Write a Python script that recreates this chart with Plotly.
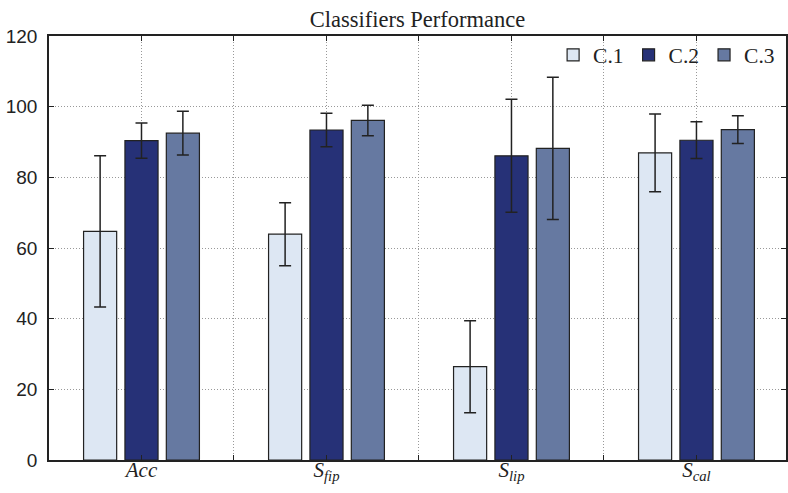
import plotly.graph_objects as go

categories = ["Acc", "S_fip", "S_lip", "S_cal"]
tick_labels = ["<i>Acc</i>", "<i>S</i><sub><i>fip</i></sub>",
               "<i>S</i><sub><i>lip</i></sub>", "<i>S</i><sub><i>cal</i></sub>"]
series_names = ["C.1", "C.2", "C.3"]
c1_values = [64.7, 63.9, 26.4, 86.9]
c1_errors = [21.4, 8.9, 13.0, 11.0]
c2_values = [90.4, 93.4, 86.1, 90.5]
c2_errors = [5.0, 4.75, 16.0, 5.2]
c3_values = [92.5, 96.1, 88.2, 93.5]
c3_errors = [6.2, 4.3, 20.1, 3.9]
colors = ["#dde7f3", "#263177", "#6679a1"]

x_pos = [i + 1 for i in range(len(categories))]

fig = go.Figure()
for name, vals, errs, col in zip(series_names,
                                 [c1_values, c2_values, c3_values],
                                 [c1_errors, c2_errors, c3_errors],
                                 colors):
    fig.add_trace(go.Bar(
        x=x_pos, y=vals, name=name,
        marker=dict(color=col, line=dict(color="#222222", width=1.2)),
        error_y=dict(type="data", array=errs, visible=True,
                     color="#222222", thickness=1.5, width=6),
    ))

grid_style = dict(gridcolor="#999999", griddash="1px,2px", gridwidth=1)

fig.update_layout(
    width=788, height=493,
    margin=dict(l=49, r=0, t=36, b=33),
    paper_bgcolor="white", plot_bgcolor="white",
    barmode="group", bargap=0.329, bargroupgap=0.2,
    title=dict(text="Classifiers Performance", x=0.5, xref="paper",
               xanchor="center", y=1, yref="paper", yanchor="bottom", pad=dict(b=9),
               font=dict(family="Liberation Serif", size=22.5, color="#222222")),
    legend=dict(orientation="h", x=0.992, xanchor="right", y=1.004, yanchor="top",
                bgcolor="rgba(255,255,255,0)", borderwidth=0,
                font=dict(family="Liberation Serif", size=21.5, color="#222222"),
                traceorder="normal"),
    showlegend=True,
)
fig.update_xaxes(
    range=[0.5, 4.484], tickmode="array", tickvals=x_pos, ticktext=tick_labels,
    ticks="inside", ticklen=5, tickcolor="#222222", tickwidth=1.2,
    showline=True, linecolor="#222222", linewidth=1.5, mirror="ticks",
    showgrid=True, zeroline=False, **grid_style,
    ticklabelstandoff=-10,
    minor=dict(tick0=0.5, dtick=0.5, ticks="inside", ticklen=5,
               tickcolor="#222222", tickwidth=1.2, showgrid=True,
               gridcolor="#999999", griddash="1px,2px", gridwidth=1),
    tickfont=dict(family="Liberation Serif", size=21, color="#222222"),
)
fig.update_yaxes(
    range=[0, 120], dtick=20, tick0=0,
    ticks="inside", ticklen=5, tickcolor="#222222", tickwidth=1.2,
    showline=True, linecolor="#222222", linewidth=1.5, mirror="ticks",
    showgrid=True, zeroline=False, **grid_style,
    ticklabelstandoff=6,
    tickfont=dict(family="Liberation Sans", size=19, color="#222222"),
)

fig.write_html("out.html", config={"displayModeBar": False},
               post_script="document.body.style.margin='0';")
